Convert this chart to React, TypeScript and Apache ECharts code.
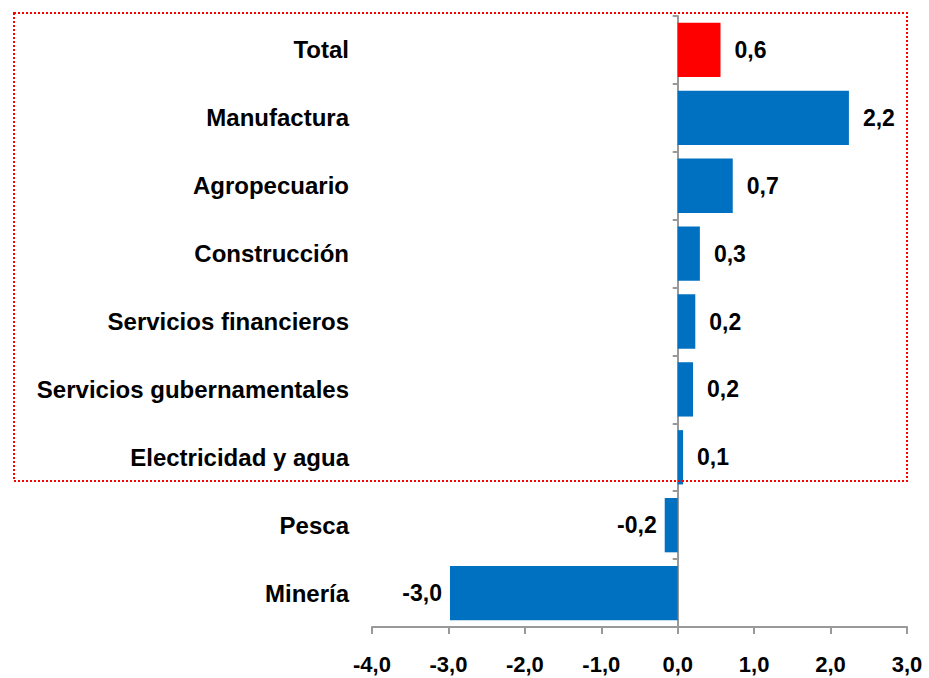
import React, { useEffect, useRef } from "react";
import * as echarts from "echarts";

const categories = [
  "Total",
  "Manufactura",
  "Agropecuario",
  "Construcción",
  "Servicios financieros",
  "Servicios gubernamentales",
  "Electricidad y agua",
  "Pesca",
  "Minería",
];
const values = [0.56, 2.24, 0.72, 0.29, 0.23, 0.2, 0.07, -0.17, -2.98];
const highlight = ["Total"];
const xTicks = [-4, 3, 1];

const fmt = (v: number) => v.toFixed(1).replace(".", ",");
const FONT = "'Liberation Sans', Arial, sans-serif";

export default function App() {
  const ref = useRef<HTMLDivElement>(null);
  useEffect(() => {
    if (!ref.current) return;
    const chart = echarts.init(ref.current, undefined, { renderer: "svg" });
    const data = values.map((v, i) => ({
      value: v,
      itemStyle: { color: highlight.includes(categories[i]) ? "#FF0000" : "#0070C0" },
      label: {
        show: true,
        position: v >= 0 ? "right" : "left",
        distance: v >= 0 ? 14 : 8,
        formatter: (p: any) => fmt(p.value),
        color: "#000",
        fontWeight: "bold",
        fontSize: 23,
        fontFamily: FONT,
      },
    }));
    chart.setOption({
      animation: false,
      grid: { left: 372, right: 22, top: 16, bottom: 51, containLabel: false, outerBoundsMode: "none" },
      xAxis: {
        type: "value",
        min: xTicks[0],
        max: xTicks[1],
        interval: xTicks[2],
        axisLine: { show: true, lineStyle: { color: "#999", width: 2 } },
        axisTick: { show: true, length: 7, lineStyle: { color: "#999", width: 2 } },
        splitLine: { show: false },
        axisLabel: {
          formatter: (v: number) => fmt(v),
          color: "#000",
          fontWeight: "bold",
          fontSize: 22,
          fontFamily: FONT,
          margin: 26,
        },
      },
      yAxis: {
        type: "category",
        data: categories,
        inverse: true,
        axisLine: { show: true, onZero: true, lineStyle: { color: "#999", width: 2 } },
        axisTick: { show: true, length: 5, lineStyle: { color: "#999", width: 2 } },
        axisLabel: {
          color: "#000",
          fontWeight: "bold",
          fontSize: 24,
          fontFamily: FONT,
          margin: 23,
        },
      },
      series: [
        {
          type: "bar",
          data,
          barCategoryGap: "20%",
        },
      ],
      graphic: [
        {
          type: "rect",
          shape: { x: 14, y: 13, width: 893, height: 468 },
          style: { fill: "none", stroke: "#FF0000", lineWidth: 2, lineDash: [2, 2] },
          z: 100,
        },
      ],
    });
    return () => chart.dispose();
  }, []);
  return <div ref={ref} style={{ width: 929, height: 678, position: "absolute", left: 0, top: 0 }} />;
}
